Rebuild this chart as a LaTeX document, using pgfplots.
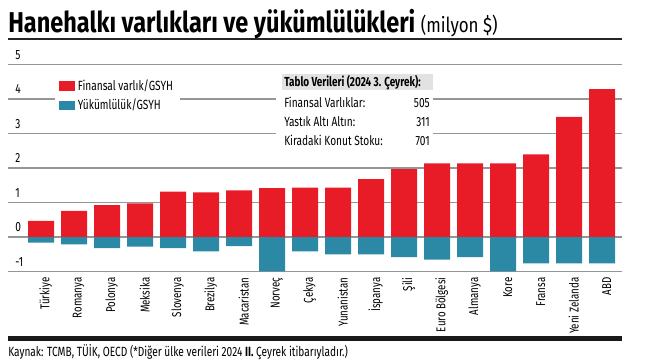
\documentclass[border=0pt]{standalone}
\usepackage{fontspec}
\setmainfont[FakeStretch=0.76]{Fira Sans}
\newfontfamily\titlefont[FakeStretch=0.82]{Fira Sans}
\usepackage{pgfplots}
\pgfplotsset{compat=1.18}
\definecolor{barred}{RGB}{232,28,38}
\definecolor{barblue}{RGB}{44,137,166}
\definecolor{gridgray}{RGB}{150,150,150}
\definecolor{hdrgray}{RGB}{226,226,226}
\begin{document}
\begin{tikzpicture}[x=0.75pt,y=0.75pt]
\useasboundingbox (0,0) rectangle (646,361);
\begin{axis}[
  at={(6pt,66.975pt)}, anchor=south west,
  scale only axis, width=460.5pt, height=155.25pt,
  xmin=-1, xmax=17.606, ymin=-1, ymax=5,
  ybar=0pt, bar width=19.5pt, bar shift=0pt,
  axis line style={draw=none}, tick style={draw=none},
  ymajorgrids, major grid style={gridgray, line width=1.1pt},
  ytick={-1,0,1,2,3,4,5},
  /pgf/number format/assume math mode=true,
  yticklabel style={anchor=south west, xshift=2pt, yshift=0.5pt, font=\fontsize{10}{12}\selectfont},
  xtick={0,...,17},
  xticklabels={Türkiye,Romanya,Polonya,Meksika,Slovenya,Brezilya,Macaristan,Norveç,Çekya,Yunanistan,İspanya,Şili,Euro Bölgesi,Almanya,Kore,Fransa,Yeni Zelanda,ABD},
  xticklabel style={rotate=90, anchor=east, font=\fontsize{9.6}{11}\selectfont, inner sep=0pt, yshift=-3.5pt},
  legend style={at={(0.0765,0.955)}, anchor=north west, draw=none, fill=white,
    font=\fontsize{10}{12}\selectfont, row sep=1pt, inner xsep=3pt, inner ysep=2pt},
  legend cell align=left,
  legend image code/.code={\fill[#1] (0pt,-3.5pt) rectangle (12pt,3.5pt);},
]
\addplot[fill=barred, draw=none] coordinates {
(0,0.47) (1,0.76) (2,0.93) (3,0.98) (4,1.32) (5,1.30) (6,1.36) (7,1.42) (8,1.44)
(9,1.44) (10,1.68) (11,1.97) (12,2.14) (13,2.14) (14,2.14) (15,2.40) (16,3.49) (17,4.29)};
\addlegendentry{Finansal varlık/GSYH}
\addplot[fill=barblue, draw=none] coordinates {
(0,-0.16) (1,-0.21) (2,-0.32) (3,-0.27) (4,-0.32) (5,-0.41) (6,-0.26) (7,-0.99) (8,-0.41)
(9,-0.50) (10,-0.50) (11,-0.58) (12,-0.65) (13,-0.58) (14,-0.99) (15,-0.76) (16,-0.76) (17,-0.76)};
\addlegendentry{Yükümlülük/GSYH}
\end{axis}
% title
\node[anchor=base west, inner sep=0pt] at (8,328) {\titlefont\bfseries\fontsize{21.5}{24}\selectfont Hanehalkı varlıkları ve yükümlülükleri\ \mdseries\fontsize{15.5}{17}\selectfont(milyon \$)};
\draw[black!85, line width=0.8pt] (8,322) -- (622,322);
% table
\fill[white] (276,211) rectangle (433,287);
\fill[hdrgray] (282,271) rectangle (433,287);
\begin{scope}[every node/.style={inner sep=0pt, font=\fontsize{10}{12}\selectfont}]
\node[anchor=base west] at (284,274) {\fontsize{9.8}{12}\selectfont\bfseries Tablo Verileri (2024 3. Çeyrek):};
\node[anchor=base west] at (284,253.5) {Finansal Varlıklar:};
\node[anchor=base east] at (430,253.5) {505};
\node[anchor=base west] at (284,234.5) {Yastık Altı Altın:};
\node[anchor=base east] at (430,234.5) {311};
\node[anchor=base west] at (284,215.5) {Kiradaki Konut Stoku:};
\node[anchor=base east] at (430,215.5) {701};
\end{scope}
% bottom band and source
\fill[black!90] (8,20) rectangle (622,25);
\node[anchor=base west, inner sep=0pt, font=\fontsize{10}{12}\selectfont] at (8,5) {Kaynak: TCMB, TÜİK, OECD (*Diğer ülke verileri 2024 \textbf{II.} Çeyrek itibarıyladır.)};
\end{tikzpicture}
\end{document}
